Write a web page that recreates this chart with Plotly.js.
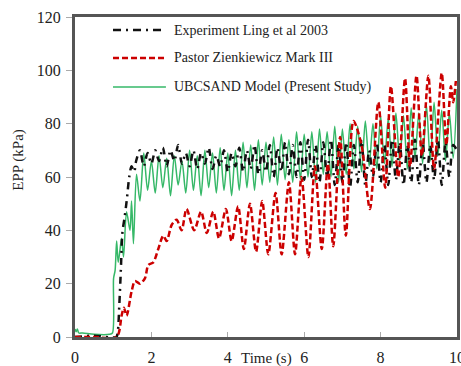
<!DOCTYPE html>
<html>
<head>
<meta charset="utf-8">
<script src="https://cdn.plot.ly/plotly-3.0.1.min.js"></script>
<style>html,body{margin:0;padding:0;background:#fff;}#chart{width:461px;height:366px;}</style>
</head>
<body>
<div id="chart"></div>
<script>
// ---- Data ----
const seriesNames = ["Experiment Ling et al 2003", "Pastor Zienkiewicz Mark III", "UBCSAND Model (Present Study)"];
const xTickVals = [0, 2, 4, 6, 8, 10];
const yTickVals = [0, 20, 40, 60, 80, 100, 120];

const expTime = [0, 0.5, 1.08, 1.12, 1.16, 1.20, 1.24, 1.30, 1.36, 1.42, 1.48, 1.55,
  1.6, 1.7, 1.8, 1.9, 2.0, 2.1, 2.2, 2.3, 2.4, 2.5, 2.6, 2.7, 2.8, 2.9,
  3.0, 3.1, 3.2, 3.3, 3.4, 3.5, 3.6, 3.7, 3.8, 3.9, 4.0, 4.1, 4.2, 4.3, 4.4, 4.5, 4.6, 4.7, 4.8, 4.9,
  5.0, 5.1, 5.2, 5.3, 5.4, 5.5, 5.6, 5.7, 5.8, 5.9, 6.0, 6.1, 6.2, 6.3, 6.4, 6.5, 6.6, 6.7, 6.8, 6.9,
  7.0, 7.1, 7.2, 7.3, 7.4, 7.5, 7.6, 7.7, 7.8, 7.9, 8.0, 8.1, 8.2, 8.3, 8.4, 8.5, 8.6, 8.7, 8.8, 8.9,
  9.0, 9.1, 9.2, 9.3, 9.4, 9.5, 9.6, 9.7, 9.8, 9.9, 10.0];
const expEPP = [0, 0.5, 0, 2, 12, 25, 39, 45, 52, 60, 64, 62,
  66, 70, 64, 69, 65, 70, 66, 71, 64, 70, 66, 72, 65, 69,
  64, 70, 63, 69, 65, 71, 63, 68, 64, 70, 62, 69, 64, 71, 62, 70, 63, 72, 61, 70,
  62, 72, 60, 71, 62, 73, 61, 72, 60, 73, 59, 74, 60, 72, 58, 73, 60, 74, 57, 72,
  58, 73, 56, 72, 58, 74, 57, 70, 60, 73, 58, 72, 57, 74, 59, 73, 57, 72, 58, 74,
  57, 73, 58, 72, 59, 74, 57, 73, 60, 72, 70];

const pastorTime = [0, 0.5, 1.09, 1.22, 1.28, 1.35, 1.48, 1.57, 1.70, 1.83,
  1.92, 2.05, 2.18, 2.31, 2.40, 2.53, 2.66, 2.79, 2.92, 3.12,
  3.30, 3.45, 3.62, 3.77, 3.95, 4.10, 4.27, 4.42, 4.58, 4.74,
  4.90, 5.06, 5.25, 5.41, 5.60, 5.76, 5.93, 6.11, 6.28, 6.46,
  6.62, 6.76, 6.94, 7.09, 7.29, 7.50, 7.72, 7.94, 8.12, 8.27,
  8.46, 8.64, 8.77, 8.94, 9.08, 9.25, 9.40, 9.60, 9.72, 9.84, 9.90, 9.97];
const pastorEPP = [0, 0, 0, 8, 11, 8, 17, 21, 20, 22,
  27, 28, 33, 38, 36, 42, 44, 40, 48, 40,
  47, 39, 47, 37, 48, 36, 49, 33, 50, 32,
  51, 31, 54, 31, 58, 31, 60, 30, 64, 33,
  65, 34, 75, 38, 81, 72, 48, 88, 56, 94,
  60, 97, 64, 98, 68, 98, 63, 99, 72, 94, 88, 96];

const ubcTime = [0, 0.03, 0.06, 0.1, 0.2, 0.5, 0.9, 0.98, 1.01, 1.05, 1.09, 1.13, 1.18, 1.22, 1.27,
  1.35, 1.44, 1.48, 1.53, 1.61, 1.70,
  1.8, 1.9, 2.0, 2.1, 2.2, 2.3, 2.4, 2.5, 2.6, 2.7, 2.8, 2.9,
  3.0, 3.1, 3.2, 3.3, 3.4, 3.5, 3.6, 3.7, 3.8, 3.9, 4.0, 4.1, 4.2, 4.3, 4.4, 4.5, 4.6, 4.7, 4.8, 4.9,
  5.0, 5.1, 5.2, 5.3, 5.4, 5.5, 5.6, 5.7, 5.8, 5.9, 6.0, 6.1, 6.2, 6.3, 6.4, 6.5, 6.6, 6.7, 6.8, 6.9,
  7.0, 7.1, 7.2, 7.3, 7.4, 7.5, 7.6, 7.7, 7.8, 7.9, 8.0, 8.1, 8.2, 8.3, 8.4, 8.5, 8.6, 8.7, 8.8, 8.9,
  9.0, 9.1, 9.2, 9.3, 9.4, 9.5, 9.6, 9.7, 9.8, 9.9, 10.0];
const ubcEPP = [3, 2, 3, 1.5, 1.5, 1, 1, 1.5, 22, 25, 36, 28, 33, 37, 30,
  47, 40, 51, 35, 61, 51,
  69, 55, 66, 54, 68, 56, 67, 53, 68, 57, 66, 54,
  70, 55, 68, 53, 70, 56, 69, 54, 71, 55, 69, 53, 70, 55, 73, 56, 72, 55, 74, 57,
  73, 58, 75, 57, 76, 59, 74, 58, 77, 59, 76, 60, 77, 58, 78, 61, 77, 60, 79, 58,
  78, 61, 80, 63, 79, 62, 81, 64, 80, 63, 83, 65, 82, 64, 84, 66, 83, 63, 86, 67,
  84, 65, 87, 66, 88, 68, 85, 66, 84, 67, 93];

// ---- Styles ----
const expColor = '#111111', pastorColor = '#cc0000', ubcColor = '#36b868';
const expDash = '7px,5px,2px,5px', pastorDash = '6px,3px';
const serif = '"Liberation Serif", "Times New Roman", serif';

const traces = [
  {x: ubcTime, y: ubcEPP, name: seriesNames[2], type: 'scatter', mode: 'lines',
   line: {color: ubcColor, width: 1.5, shape: 'spline', smoothing: 0.8}},
  {x: expTime, y: expEPP, name: seriesNames[0], type: 'scatter', mode: 'lines',
   line: {color: expColor, width: 2.5, dash: expDash, shape: 'spline', smoothing: 0.8}},
  {x: pastorTime, y: pastorEPP, name: seriesNames[1], type: 'scatter', mode: 'lines',
   line: {color: pastorColor, width: 2.5, dash: pastorDash, shape: 'spline', smoothing: 0.8}}
];

// custom legend (paper coordinates)
const legRows = [0.959, 0.872, 0.781];
const legColors = [expColor, pastorColor, ubcColor];
const legDash = ['8px,5px,2px,5px', pastorDash, 'solid'];
const legWidth = [2.5, 2.5, 1.5];
const shapes = legRows.map((yy, i) => ({
  type: 'line', xref: 'paper', yref: 'paper', x0: 0.0995, x1: 0.238, y0: yy, y1: yy,
  line: {color: legColors[i], width: legWidth[i], dash: legDash[i]}
}));
const annotations = legRows.map((yy, i) => ({
  xref: 'paper', yref: 'paper', x: 0.254, y: yy, xanchor: 'left', yanchor: 'middle',
  text: seriesNames[i], showarrow: false, font: {family: serif, size: 14, color: '#222'}
}));
annotations.push({xref: 'x', yref: 'paper', x: 5.0, y: -0.066, xanchor: 'center', yanchor: 'middle',
  text: 'Time (s)', showarrow: false, font: {family: serif, size: 15, color: '#222'}});
annotations.push({xref: 'paper', yref: 'paper', x: -0.15, y: 0.553, xanchor: 'center', yanchor: 'middle',
  text: 'EPP (kPa)', textangle: -90, showarrow: false, font: {family: serif, size: 15, color: '#222'}});

const layout = {
  width: 461, height: 366,
  margin: {l: 75, r: 4, t: 17, b: 29, pad: 0},
  paper_bgcolor: '#ffffff', plot_bgcolor: '#ffffff',
  showlegend: false,
  font: {family: serif, size: 15, color: '#222'},
  xaxis: {range: [0, 10], tickmode: 'array', tickvals: xTickVals, showgrid: false, zeroline: false,
    showline: true, linecolor: '#555555', linewidth: 3, mirror: true,
    ticks: 'inside', ticklen: 5, tickcolor: '#aaaaaa', tickwidth: 1,
    tickfont: {family: serif, size: 16, color: '#222'}, ticklabelstandoff: 4,
    ticklabeloverflow: 'allow'},
  yaxis: {range: [0, 120], tickmode: 'array', tickvals: yTickVals, showgrid: false, zeroline: false,
    showline: true, linecolor: '#555555', linewidth: 3, mirror: true,
    ticks: 'outside', ticklen: 6, tickcolor: '#aaaaaa', tickwidth: 1,
    tickfont: {family: serif, size: 16, color: '#222'}, ticklabelstandoff: 2,
    ticklabeloverflow: 'allow'},
  shapes: shapes,
  annotations: annotations
};

Plotly.newPlot('chart', traces, layout, {displayModeBar: false, staticPlot: true});
</script>
</body>
</html>
